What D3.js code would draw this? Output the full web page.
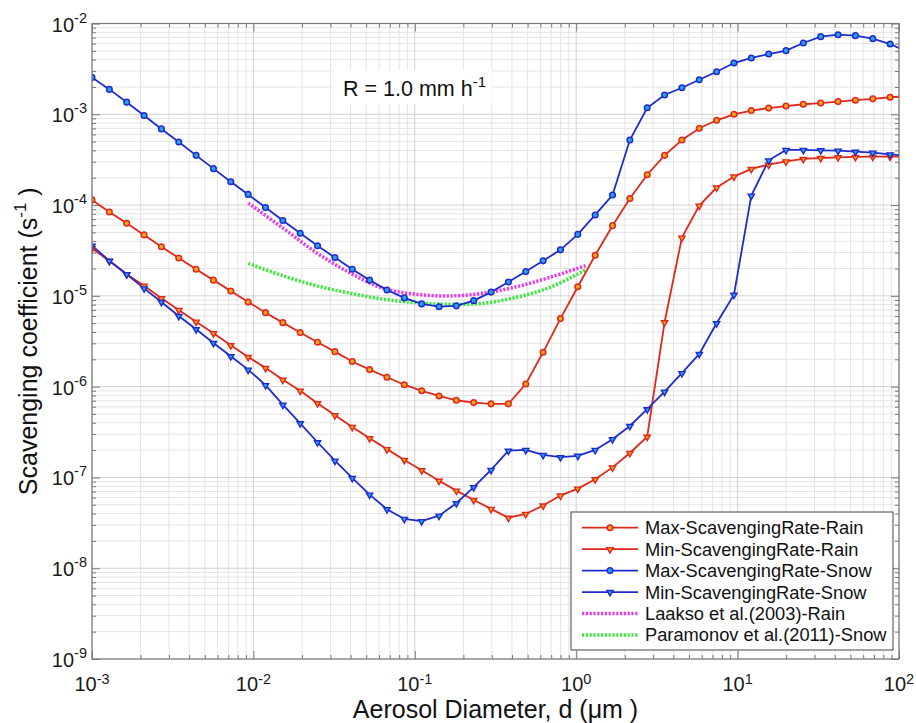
<!DOCTYPE html>
<html>
<head>
<meta charset="utf-8">
<script src="https://cdn.jsdelivr.net/npm/d3@7"></script>
<style>
  html, body { margin: 0; padding: 0; background: #fff; }
  svg { display: block; font-family: "Liberation Sans", Arial, Helvetica, sans-serif; }
</style>
</head>
<body>
<svg id="chart" width="916" height="723"></svg>
<script>
// Aerosol diameters (µm), shared by the four modelled series
const diameters = [
  0.001, 0.001281, 0.001641, 0.002102, 0.002692, 0.003448, 0.004416, 0.005656,
  0.007244, 0.009279, 0.01189, 0.01522, 0.0195, 0.02497, 0.03199, 0.04097,
  0.05248, 0.06722, 0.0861, 0.1103, 0.1413, 0.1809, 0.2317, 0.2968,
  0.3802, 0.487, 0.6237, 0.7989, 1.023, 1.311, 1.679, 2.15,
  2.754, 3.528, 4.519, 5.788, 7.413, 9.495, 12.16, 15.58,
  19.95, 25.55, 32.73, 41.93, 53.7, 68.79, 88.1, 112.8
];

// Scavenging coefficients (s^-1)
const maxRain = [
  1.14e-4, 8.4e-5, 6.31e-5, 4.69e-5, 3.48e-5, 2.61e-5, 1.96e-5, 1.49e-5,
  1.13e-5, 8.57e-6, 6.53e-6, 5.07e-6, 3.94e-6, 3.08e-6, 2.43e-6, 1.89e-6,
  1.54e-6, 1.27e-6, 1.05e-6, 9.0e-7, 7.9e-7, 7.08e-7, 6.67e-7, 6.46e-7,
  6.46e-7, 1.07e-6, 2.39e-6, 5.62e-6, 1.26e-5, 2.80e-5, 5.93e-5, 1.18e-4,
  2.16e-4, 3.53e-4, 5.21e-4, 7.02e-4, 8.59e-4, 1.0e-3, 1.10e-3, 1.17e-3,
  1.23e-3, 1.29e-3, 1.33e-3, 1.38e-3, 1.43e-3, 1.48e-3, 1.54e-3, 1.58e-3
];
const minRain = [
  3.34e-5, 2.42e-5, 1.73e-5, 1.29e-5, 9.4e-6, 7.0e-6, 5.2e-6, 3.87e-6,
  2.86e-6, 2.12e-6, 1.61e-6, 1.19e-6, 9.0e-7, 6.56e-7, 4.84e-7, 3.6e-7,
  2.7e-7, 2.05e-7, 1.56e-7, 1.2e-7, 9.2e-8, 7.16e-8, 5.65e-8, 4.5e-8,
  3.6e-8, 3.96e-8, 4.9e-8, 6.31e-8, 7.53e-8, 9.55e-8, 1.29e-7, 1.86e-7,
  2.81e-7, 5.12e-6, 4.38e-5, 9.86e-5, 1.56e-4, 2.06e-4, 2.50e-4, 2.79e-4,
  3.03e-4, 3.22e-4, 3.30e-4, 3.36e-4, 3.39e-4, 3.41e-4, 3.41e-4, 3.43e-4
];
const maxSnow = [
  2.55e-3, 1.88e-3, 1.36e-3, 9.7e-4, 6.9e-4, 4.95e-4, 3.53e-4, 2.52e-4,
  1.81e-4, 1.31e-4, 9.4e-5, 6.76e-5, 4.89e-5, 3.56e-5, 2.64e-5, 1.96e-5,
  1.49e-5, 1.16e-5, 9.5e-6, 8.15e-6, 7.6e-6, 7.76e-6, 8.85e-6, 1.10e-5,
  1.42e-5, 1.85e-5, 2.43e-5, 3.21e-5, 4.76e-5, 7.78e-5, 1.29e-4, 5.21e-4,
  1.18e-3, 1.63e-3, 1.96e-3, 2.40e-3, 2.94e-3, 3.67e-3, 4.17e-3, 4.61e-3,
  5.02e-3, 6.10e-3, 7.16e-3, 7.53e-3, 7.35e-3, 6.81e-3, 5.94e-3, 4.89e-3
];
const minSnow = [
  3.57e-5, 2.44e-5, 1.73e-5, 1.21e-5, 8.57e-6, 6.01e-6, 4.29e-6, 3.03e-6,
  2.16e-6, 1.54e-6, 1.04e-6, 6.34e-7, 3.95e-7, 2.44e-7, 1.53e-7, 9.86e-8,
  6.47e-8, 4.47e-8, 3.49e-8, 3.30e-8, 3.79e-8, 5.2e-8, 7.8e-8, 1.21e-7,
  1.97e-7, 2.01e-7, 1.77e-7, 1.67e-7, 1.73e-7, 2.01e-7, 2.64e-7, 3.69e-7,
  5.64e-7, 8.81e-7, 1.41e-6, 2.29e-6, 4.99e-6, 1.03e-5, 1.27e-4, 3.11e-4,
  4.05e-4, 4.05e-4, 4.01e-4, 3.98e-4, 3.87e-4, 3.78e-4, 3.62e-4, 3.47e-4
];

// Literature parameterisations
const laaksoD = [0.0093, 0.0153, 0.0247, 0.0397, 0.0638, 0.103, 0.165, 0.266, 0.428, 0.688, 1.16];
const laaksoRain = [1.05e-4, 5.55e-5, 2.97e-5, 1.79e-5, 1.21e-5, 1.04e-5, 9.97e-6, 1.07e-5, 1.26e-5, 1.6e-5, 2.17e-5];
const paramonovD = [0.0093, 0.0153, 0.0247, 0.0397, 0.0638, 0.103, 0.165, 0.266, 0.428, 0.688, 1.16];
const paramonovSnow = [2.28e-5, 1.66e-5, 1.29e-5, 1.07e-5, 9.18e-6, 8.41e-6, 8.07e-6, 8.28e-6, 9.66e-6, 1.24e-5, 1.96e-5];

// Axis decades (exponents of ten)
const xTickExps = [-3, -2, -1, 0, 1, 2];
const yTickExps = [-9, -8, -7, -6, -5, -4, -3, -2];

const seriesNames = [
  "Max-ScavengingRate-Rain", "Min-ScavengingRate-Rain",
  "Max-ScavengingRate-Snow", "Min-ScavengingRate-Snow",
  "Laakso et al.(2003)-Rain", "Paramonov et al.(2011)-Snow"
];

const RED = "#e0281c", BLUE = "#1f2bd0";
const series = [
  { name: seriesNames[0], values: maxRain, color: RED,  marker: "circle",   fill: "#f6a31e" },
  { name: seriesNames[1], values: minRain, color: RED,  marker: "triangle", fill: "#f6a31e" },
  { name: seriesNames[2], values: maxSnow, color: BLUE, marker: "circle",   fill: "#28a4e6" },
  { name: seriesNames[3], values: minSnow, color: BLUE, marker: "triangle", fill: "#28a4e6" }
];
const refCurves = [
  { name: seriesNames[4], d: laaksoD,    values: laaksoRain,    color: "#e83ce8" },
  { name: seriesNames[5], d: paramonovD, values: paramonovSnow, color: "#3ee83e" }
];

const svg = d3.select("#chart");
const L = 92, R = 899, T = 23.5, B = 659;
const x = d3.scaleLog().domain([1e-3, 1e2]).range([L, R]);
const y = d3.scaleLog().domain([1e-9, 1e-2]).range([B, T]);

// minor and major positions per decade
const xMinor = [], yMinor = [];
xTickExps.slice(0, -1).forEach(e => { for (let k = 2; k <= 9; k++) xMinor.push(k * Math.pow(10, e)); });
yTickExps.slice(0, -1).forEach(e => { for (let k = 2; k <= 9; k++) yMinor.push(k * Math.pow(10, e)); });
const xMajor = xTickExps.map(e => Math.pow(10, e));
const yMajor = yTickExps.map(e => Math.pow(10, e));

// grid
const grid = svg.append("g");
grid.selectAll(".gxm").data(xMinor).enter().append("line")
  .attr("x1", d => x(d)).attr("x2", d => x(d)).attr("y1", T).attr("y2", B)
  .attr("stroke", "#e4e4e4").attr("stroke-width", 1);
grid.selectAll(".gym").data(yMinor).enter().append("line")
  .attr("y1", d => y(d)).attr("y2", d => y(d)).attr("x1", L).attr("x2", R)
  .attr("stroke", "#e4e4e4").attr("stroke-width", 1);
grid.selectAll(".gxM").data(xMajor).enter().append("line")
  .attr("x1", d => x(d)).attr("x2", d => x(d)).attr("y1", T).attr("y2", B)
  .attr("stroke", "#d2d2d2").attr("stroke-width", 1);
grid.selectAll(".gyM").data(yMajor).enter().append("line")
  .attr("y1", d => y(d)).attr("y2", d => y(d)).attr("x1", L).attr("x2", R)
  .attr("stroke", "#d2d2d2").attr("stroke-width", 1);

// inward ticks on all four sides
const AX = "#7a7a7a";
function ticks(axisFn, scale, vals, size, transform) {
  const g = svg.append("g").attr("transform", transform)
    .call(axisFn(scale).tickValues(vals).tickSize(size).tickFormat(""));
  g.select(".domain").remove();
  g.selectAll("line").attr("stroke", AX);
}
ticks(d3.axisBottom, x, xMinor, -4, `translate(0,${B})`);
ticks(d3.axisBottom, x, xMajor, -8, `translate(0,${B})`);
ticks(d3.axisTop, x, xMinor, -4, `translate(0,${T})`);
ticks(d3.axisTop, x, xMajor, -8, `translate(0,${T})`);
ticks(d3.axisLeft, y, yMinor, -4, `translate(${L},0)`);
ticks(d3.axisLeft, y, yMajor, -8, `translate(${L},0)`);
ticks(d3.axisRight, y, yMinor, -4, `translate(${R},0)`);
ticks(d3.axisRight, y, yMajor, -8, `translate(${R},0)`);

// title annotation with white backing
svg.append("rect").attr("x", 334).attr("y", 70).attr("width", 158).attr("height", 34).attr("fill", "#fff");
const ttl = svg.append("text").attr("x", 343).attr("y", 96).attr("font-size", 21.5).attr("fill", "#111");
ttl.append("tspan").text("R = 1.0 mm h");
ttl.append("tspan").attr("font-size", 15).attr("dy", -9).text("-1");

// data
const clip = svg.append("clipPath").attr("id", "plotclip");
clip.append("rect").attr("x", L).attr("y", T).attr("width", R - L).attr("height", B - T);
const plot = svg.append("g").attr("clip-path", "url(#plotclip)");

const lineGen = d3.line().x(d => x(d[0])).y(d => y(d[1]));
const smooth = d3.line().x(d => x(d[0])).y(d => y(d[1])).curve(d3.curveCatmullRom);

refCurves.forEach(c => {
  plot.append("path")
    .datum(c.d.map((d, i) => [d, c.values[i]]))
    .attr("d", smooth).attr("fill", "none")
    .attr("stroke", c.color).attr("stroke-width", 3.5)
    .attr("stroke-dasharray", "2.2,1.6");
});

const triPath = d3.symbol(d3.symbolTriangle, 17)();
function drawMarker(g, s, cx, cy) {
  if (s.marker === "circle") {
    g.append("circle").attr("cx", cx).attr("cy", cy).attr("r", 2.8)
      .attr("fill", s.fill).attr("stroke", s.color).attr("stroke-width", 1.5);
  } else {
    g.append("path").attr("d", triPath)
      .attr("transform", `translate(${cx},${cy + 0.3}) rotate(180)`)
      .attr("fill", s.fill).attr("stroke", s.color).attr("stroke-width", 1.4);
  }
}

series.forEach(s => {
  const pts = diameters.map((d, i) => [d, s.values[i]]);
  plot.append("path").datum(pts).attr("d", lineGen)
    .attr("fill", "none").attr("stroke", s.color).attr("stroke-width", 1.8);
});
series.forEach(s => {
  const g = plot.append("g");
  diameters.forEach((d, i) => {
    if (d <= 100) drawMarker(g, s, x(d), y(s.values[i]));
  });
});

// axes box
svg.append("rect").attr("x", L).attr("y", T).attr("width", R - L).attr("height", B - T)
  .attr("fill", "none").attr("stroke", AX).attr("stroke-width", 1.2);

// tick labels (10 with superscript exponent)
xTickExps.forEach(e => {
  const t = svg.append("text").attr("x", x(Math.pow(10, e))).attr("y", 691)
    .attr("text-anchor", "middle").attr("font-size", 20).attr("fill", "#1a1a1a");
  t.append("tspan").text("10");
  t.append("tspan").attr("font-size", 14.5).attr("dy", -7).text(String(e));
});
yTickExps.forEach(e => {
  const t = svg.append("text").attr("x", 87).attr("y", y(Math.pow(10, e)) + 8)
    .attr("text-anchor", "end").attr("font-size", 20).attr("fill", "#1a1a1a");
  t.append("tspan").text("10");
  t.append("tspan").attr("font-size", 14.5).attr("dy", -9).text(String(e));
});

// axis titles
const xl = svg.append("text").attr("x", (L + R) / 2).attr("y", 718)
  .attr("text-anchor", "middle").attr("font-size", 25).attr("fill", "#111");
xl.append("tspan").text("Aerosol Diameter, d (");
xl.append("tspan").text("\u03bcm");
xl.append("tspan").text(" )");

const yl = svg.append("text")
  .attr("transform", `translate(37,${(T + B) / 2}) rotate(-90)`)
  .attr("text-anchor", "middle").attr("font-size", 25).attr("fill", "#111");
yl.append("tspan").text("Scavenging coefficient (s");
yl.append("tspan").attr("font-size", 17).attr("dy", -11).text("-1");
yl.append("tspan").attr("dy", 11).text(" )");

// legend
const lg = svg.append("g");
lg.append("rect").attr("x", 571).attr("y", 512).attr("width", 322).attr("height", 138)
  .attr("fill", "#fff").attr("stroke", "#444").attr("stroke-width", 1);
const rowY = i => 527.7 + i * 21.45;
series.forEach((s, i) => {
  const cy = rowY(i);
  lg.append("line").attr("x1", 582).attr("x2", 638).attr("y1", cy).attr("y2", cy)
    .attr("stroke", s.color).attr("stroke-width", 1.8);
  drawMarker(lg, s, 610, cy);
});
refCurves.forEach((c, j) => {
  const cy = rowY(4 + j);
  lg.append("line").attr("x1", 582).attr("x2", 638).attr("y1", cy).attr("y2", cy)
    .attr("stroke", c.color).attr("stroke-width", 3.5).attr("stroke-dasharray", "2.2,1.6");
});
seriesNames.forEach((n, i) => {
  lg.append("text").attr("x", 645).attr("y", rowY(i) + 6.5)
    .attr("font-size", 18.3).attr("fill", "#111").text(n);
});
</script>
</body>
</html>
